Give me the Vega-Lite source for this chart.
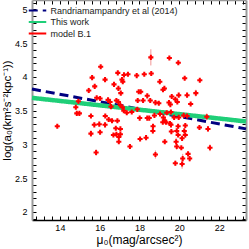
{
 "$schema": "https://vega.github.io/schema/vega-lite/v6.json",
 "width": 214, "height": 220,
 "autosize": {"type": "none"},
 "padding": {"left": 32, "top": 0, "right": 3, "bottom": 29},
 "background": "white",
 "config": {"view": {"stroke": null}, "font": "Liberation Sans"},
 "datasets": {
  "lines": [
   {"series": "Randriamampandry et al (2014)", "x1": 12.6, "y1": 3.82, "x2": 23.35, "y2": 3.23},
   {"series": "This work", "x1": 12.6, "y1": 3.69, "x2": 23.35, "y2": 3.34}
  ],
  "pts": [
   {"mu":18.57,"loga":4.29,"err":0.12},{"mu":19.50,"loga":4.28,"err":0.02},{"mu":19.95,"loga":4.21,"err":0.03},
   {"mu":16.05,"loga":4.15,"err":0.02},{"mu":15.62,"loga":3.99,"err":0.02},{"mu":16.27,"loga":3.96,"err":0.02},
   {"mu":16.91,"loga":4.06,"err":0.02},{"mu":17.22,"loga":4.03,"err":0.02},{"mu":17.42,"loga":4.04,"err":0.02},
   {"mu":17.12,"loga":3.96,"err":0.02},{"mu":17.16,"loga":3.93,"err":0.03},{"mu":17.86,"loga":4.02,"err":0.02},
   {"mu":18.24,"loga":4.04,"err":0.02},{"mu":18.59,"loga":4.05,"err":0.02},{"mu":16.72,"loga":3.89,"err":0.02},
   {"mu":15.75,"loga":3.86,"err":0.02},{"mu":15.45,"loga":3.80,"err":0.04},{"mu":16.94,"loga":3.83,"err":0.03},
   {"mu":19.02,"loga":3.93,"err":0.02},{"mu":19.18,"loga":3.81,"err":0.02},{"mu":19.25,"loga":3.83,"err":0.02},
   {"mu":20.27,"loga":3.98,"err":0.03},{"mu":21.03,"loga":3.95,"err":0.02},{"mu":17.06,"loga":3.76,"err":0.02},
   {"mu":17.96,"loga":3.78,"err":0.02},{"mu":18.06,"loga":3.78,"err":0.02},{"mu":20.83,"loga":3.76,"err":0.05},
   {"mu":19.97,"loga":3.73,"err":0.02},{"mu":20.39,"loga":3.73,"err":0.03},{"mu":19.62,"loga":3.71,"err":0.02},
   {"mu":19.80,"loga":3.67,"err":0.03},{"mu":20.57,"loga":3.60,"err":0.02},{"mu":18.39,"loga":3.72,"err":0.02},
   {"mu":18.18,"loga":3.65,"err":0.02},{"mu":17.91,"loga":3.65,"err":0.02},{"mu":18.54,"loga":3.65,"err":0.02},
   {"mu":18.80,"loga":3.62,"err":0.04},{"mu":18.97,"loga":3.61,"err":0.02},{"mu":19.48,"loga":3.62,"err":0.02},
   {"mu":19.55,"loga":3.59,"err":0.03},{"mu":19.90,"loga":3.63,"err":0.02},{"mu":15.85,"loga":3.69,"err":0.02},
   {"mu":16.02,"loga":3.68,"err":0.02},{"mu":16.42,"loga":3.66,"err":0.02},{"mu":16.52,"loga":3.63,"err":0.02},
   {"mu":16.84,"loga":3.65,"err":0.03},{"mu":16.94,"loga":3.63,"err":0.02},{"mu":17.04,"loga":3.58,"err":0.02},
   {"mu":17.14,"loga":3.55,"err":0.02},{"mu":16.57,"loga":3.56,"err":0.02},{"mu":14.93,"loga":3.64,"err":0.02},
   {"mu":14.80,"loga":3.55,"err":0.03},{"mu":14.85,"loga":3.46,"err":0.02},{"mu":14.98,"loga":3.46,"err":0.02},
   {"mu":15.56,"loga":3.42,"err":0.03},{"mu":16.28,"loga":3.42,"err":0.02},{"mu":17.21,"loga":3.50,"err":0.02},
   {"mu":17.36,"loga":3.47,"err":0.02},{"mu":17.61,"loga":3.48,"err":0.02},{"mu":17.89,"loga":3.52,"err":0.03},
   {"mu":18.01,"loga":3.39,"err":0.03},{"mu":18.39,"loga":3.39,"err":0.03},{"mu":18.49,"loga":3.39,"err":0.02},
   {"mu":18.75,"loga":3.43,"err":0.02},{"mu":19.03,"loga":3.45,"err":0.02},{"mu":19.20,"loga":3.40,"err":0.03},
   {"mu":19.37,"loga":3.47,"err":0.02},{"mu":19.58,"loga":3.48,"err":0.02},{"mu":19.74,"loga":3.40,"err":0.02},
   {"mu":19.97,"loga":3.40,"err":0.03},{"mu":20.22,"loga":3.43,"err":0.02},{"mu":20.39,"loga":3.42,"err":0.02},
   {"mu":21.38,"loga":3.41,"err":0.05},{"mu":16.45,"loga":3.37,"err":0.02},{"mu":16.62,"loga":3.35,"err":0.02},
   {"mu":16.89,"loga":3.35,"err":0.02},{"mu":19.27,"loga":3.35,"err":0.02},{"mu":15.73,"loga":3.29,"err":0.02},
   {"mu":15.98,"loga":3.30,"err":0.02},{"mu":16.27,"loga":3.29,"err":0.02},{"mu":13.87,"loga":3.27,"err":0.02},
   {"mu":19.58,"loga":3.29,"err":0.02},{"mu":19.94,"loga":3.27,"err":0.03},{"mu":20.30,"loga":3.28,"err":0.02},
   {"mu":18.68,"loga":3.27,"err":0.03},{"mu":19.17,"loga":3.33,"err":0.02},{"mu":19.33,"loga":3.33,"err":0.02},
   {"mu":19.53,"loga":3.31,"err":0.02},{"mu":16.81,"loga":3.24,"err":0.02},{"mu":17.04,"loga":3.23,"err":0.02},
   {"mu":21.01,"loga":3.25,"err":0.02},{"mu":21.44,"loga":3.23,"err":0.04},{"mu":15.56,"loga":3.16,"err":0.05},
   {"mu":16.02,"loga":3.18,"err":0.02},{"mu":16.69,"loga":3.14,"err":0.02},{"mu":16.96,"loga":3.11,"err":0.04},
   {"mu":17.04,"loga":3.15,"err":0.02},{"mu":16.84,"loga":3.15,"err":0.02},{"mu":18.67,"loga":3.20,"err":0.04},
   {"mu":19.60,"loga":3.19,"err":0.03},{"mu":19.87,"loga":3.20,"err":0.02},{"mu":19.94,"loga":3.14,"err":0.02},
   {"mu":20.25,"loga":3.20,"err":0.02},{"mu":20.30,"loga":3.14,"err":0.04},{"mu":18.03,"loga":3.08,"err":0.02},
   {"mu":18.33,"loga":3.10,"err":0.02},{"mu":16.96,"loga":3.04,"err":0.03},{"mu":19.27,"loga":3.04,"err":0.02},
   {"mu":19.84,"loga":3.04,"err":0.06},{"mu":20.14,"loga":3.09,"err":0.02},{"mu":17.52,"loga":2.97,"err":0.02},
   {"mu":19.87,"loga":2.97,"err":0.05},{"mu":20.10,"loga":2.95,"err":0.02},{"mu":21.54,"loga":2.95,"err":0.05},
   {"mu":15.82,"loga":2.88,"err":0.05},{"mu":18.80,"loga":2.85,"err":0.06},{"mu":20.17,"loga":2.79,"err":0.07},
   {"mu":20.52,"loga":2.79,"err":0.04},{"mu":20.44,"loga":2.86,"err":0.03},{"mu":19.80,"loga":2.72,"err":0.04},
   {"mu":20.14,"loga":2.71,"err":0.07}
  ]
 },
 "layer": [
  {
   "data": {"name": "lines"},
   "mark": {"type": "rule"},
   "encoding": {
    "x": {"field": "x1", "type": "quantitative",
     "scale": {"domain": [12.6, 23.35], "nice": false, "zero": false},
     "axis": {"orient": "bottom", "title": "μ₀(mag/arcsec²)",
      "values": [12.8,13.2,13.6,14,14.4,14.8,15.2,15.6,16,16.4,16.8,17.2,17.6,18,18.4,18.8,19.2,19.6,20,20.4,20.8,21.2,21.6,22,22.4,22.8,23.2],
      "labelExpr": "datum.value % 2 == 0 ? '' + datum.value : ''",
      "tickSize": -4,
      "labelPadding": 7, "labelFlush": false, "labelOverlap": false,
      "domainColor": "#000", "domainWidth": 1.5, "tickColor": "#000", "tickWidth": 1,
      "labelFontSize": 9, "labelColor": "#000", "titleFontSize": 12, "titleFontWeight": "normal", "titleColor": "#000", "titlePadding": 2, "grid": false}},
    "y": {"field": "y1", "type": "quantitative",
     "scale": {"domain": [1.88, 5.14], "nice": false, "zero": false},
     "axis": {"orient": "left", "title": "log(a₀(km²s⁻²kpc⁻¹))",
      "values": [1.9,2,2.1,2.2,2.3,2.4,2.5,2.6,2.7,2.8,2.9,3,3.1,3.2,3.3,3.4,3.5,3.6,3.7,3.8,3.9,4,4.1,4.2,4.3,4.4,4.5,4.6,4.7,4.8,4.9,5,5.1],
      "labelExpr": "datum.value % 0.5 == 0 ? '' + datum.value : ''",
      "tickSize": -4,
      "labelPadding": 9, "labelFlush": false, "labelOverlap": false,
      "domainColor": "#999", "domainWidth": 2, "tickColor": "#000", "tickWidth": 1,
      "labelFontSize": 9, "labelColor": "#000", "titleFontSize": 11.5, "titleFontWeight": "normal", "titleColor": "#000", "titlePadding": 2, "grid": false}},
    "x2": {"field": "x2"},
    "y2": {"field": "y2"},
    "color": {"field": "series", "type": "nominal",
     "scale": {"domain": ["Randriamampandry et al (2014)", "This work", "model B.1"], "range": ["#000080", "#1fcf78", "#ff0000"]},
     "legend": {"orient": "none", "legendX": 1, "legendY": 6, "title": null, "padding": 0,
      "labelFont": "Liberation Sans", "labelFontSize": 9, "labelColor": "#222",
      "symbolType": "M-2.5,0L2.5,0", "symbolSize": 49, "symbolStrokeWidth": 2,
      "rowPadding": 1.5, "labelOffset": 8.5}},
    "strokeDash": {"field": "series", "type": "nominal",
     "scale": {"domain": ["Randriamampandry et al (2014)", "This work", "model B.1"], "range": [[9, 5], [1, 0], [1, 0]]},
     "legend": {"orient": "none", "legendX": 1, "legendY": 6, "title": null, "padding": 0,
      "labelFont": "Liberation Sans", "labelFontSize": 9, "labelColor": "#222",
      "symbolType": "M-2.5,0L2.5,0", "symbolSize": 49, "symbolStrokeWidth": 2,
      "rowPadding": 1.5, "labelOffset": 8.5}},
    "strokeWidth": {"condition": {"test": "datum.series == 'This work'", "value": 4.5}, "value": 3}
   }
  },
  {
   "data": {"name": "pts"},
   "mark": {"type": "errorbar", "ticks": false, "color": "#f29494", "thickness": 1},
   "encoding": {
    "x": {"field": "mu", "type": "quantitative", "axis": null},
    "y": {"field": "loga", "type": "quantitative", "axis": null},
    "yError": {"field": "err"}
   }
  },
  {
   "data": {"name": "pts"},
   "mark": {"type": "point", "shape": "cross", "filled": true, "color": "#ff0000", "size": 26, "opacity": 1},
   "encoding": {
    "x": {"field": "mu", "type": "quantitative",
     "axis": {"orient": "top", "title": null, "labels": false,
      "values": [12.8,13.2,13.6,14,14.4,14.8,15.2,15.6,16,16.4,16.8,17.2,17.6,18,18.4,18.8,19.2,19.6,20,20.4,20.8,21.2,21.6,22,22.4,22.8,23.2],
      "tickSize": -4,
      "domainColor": "#999", "domainWidth": 1.5, "tickColor": "#000", "tickWidth": 1, "grid": false}},
    "y": {"field": "loga", "type": "quantitative",
     "axis": {"orient": "right", "title": null, "labels": false,
      "values": [1.9,2,2.1,2.2,2.3,2.4,2.5,2.6,2.7,2.8,2.9,3,3.1,3.2,3.3,3.4,3.5,3.6,3.7,3.8,3.9,4,4.1,4.2,4.3,4.4,4.5,4.6,4.7,4.8,4.9,5,5.1],
      "tickSize": -4,
      "domainColor": "#999", "domainWidth": 2, "tickColor": "#000", "tickWidth": 1, "grid": false}}
   }
  }
 ],
 "resolve": {"axis": {"x": "independent", "y": "independent"}}
}
